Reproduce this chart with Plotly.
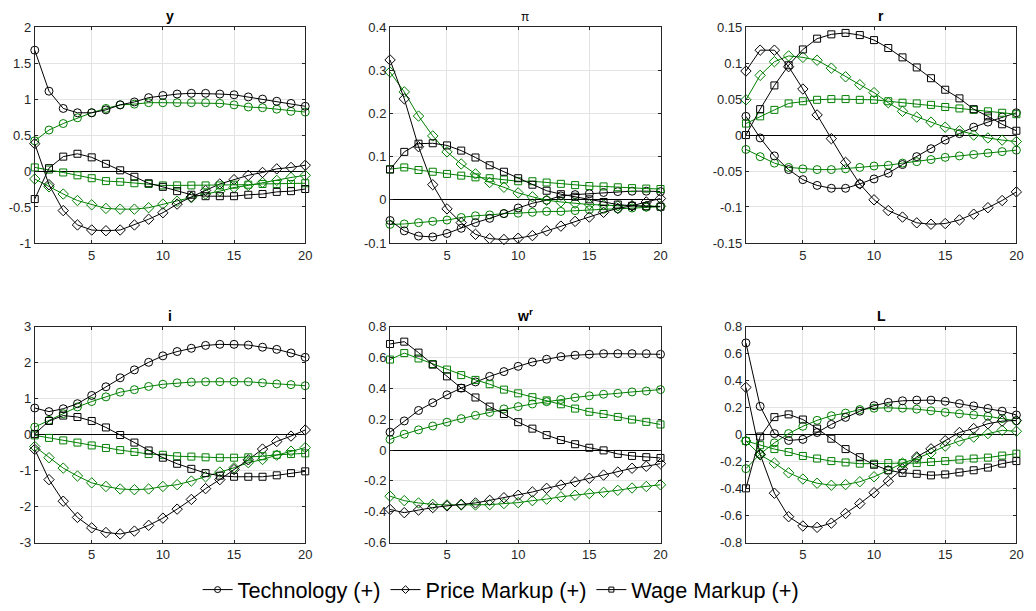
import plotly.graph_objects as go

periods = list(range(1, 21))

# ---------------- Output (y) ----------------
y_tech_a = [1.68, 1.11, 0.87, 0.81, 0.81, 0.85, 0.92, 0.96, 1.02, 1.05, 1.07, 1.08, 1.08, 1.07, 1.06, 1.03, 1.00, 0.97, 0.94, 0.90]
y_tech_b = [0.42, 0.57, 0.66, 0.74, 0.81, 0.87, 0.92, 0.93, 0.95, 0.95, 0.95, 0.95, 0.95, 0.94, 0.92, 0.89, 0.88, 0.86, 0.83, 0.82]
y_price_a = [0.38, -0.19, -0.55, -0.75, -0.82, -0.83, -0.82, -0.75, -0.67, -0.58, -0.46, -0.36, -0.27, -0.18, -0.12, -0.06, -0.02, 0.03, 0.05, 0.08]
y_price_b = [-0.11, -0.22, -0.32, -0.41, -0.47, -0.52, -0.53, -0.53, -0.51, -0.46, -0.42, -0.37, -0.32, -0.28, -0.23, -0.20, -0.16, -0.13, -0.09, -0.06]
y_wage_a = [-0.39, 0.04, 0.20, 0.24, 0.19, 0.10, 0.01, -0.08, -0.17, -0.22, -0.28, -0.33, -0.35, -0.35, -0.35, -0.33, -0.32, -0.29, -0.28, -0.25]
y_wage_b = [0.05, 0.02, -0.02, -0.06, -0.10, -0.14, -0.15, -0.17, -0.18, -0.20, -0.20, -0.20, -0.20, -0.20, -0.19, -0.19, -0.18, -0.18, -0.18, -0.17]

# ---------------- Inflation (pi) ----------------
pi_tech_a = [-0.048, -0.072, -0.084, -0.086, -0.078, -0.066, -0.053, -0.043, -0.032, -0.019, -0.008, -0.001, 0.009, 0.012, 0.014, 0.017, 0.019, 0.020, 0.020, 0.019]
pi_tech_b = [-0.057, -0.056, -0.053, -0.050, -0.047, -0.041, -0.037, -0.035, -0.032, -0.031, -0.029, -0.027, -0.027, -0.025, -0.023, -0.022, -0.021, -0.019, -0.017, -0.016]
pi_price_a = [0.324, 0.234, 0.123, 0.035, -0.021, -0.053, -0.080, -0.090, -0.092, -0.089, -0.083, -0.072, -0.061, -0.050, -0.040, -0.029, -0.020, -0.014, -0.005, 0.003]
pi_price_b = [0.296, 0.250, 0.194, 0.148, 0.111, 0.083, 0.060, 0.040, 0.029, 0.016, 0.007, -0.001, -0.005, -0.008, -0.011, -0.012, -0.014, -0.014, -0.015, -0.015]
pi_wage_a = [0.070, 0.111, 0.130, 0.131, 0.126, 0.114, 0.098, 0.080, 0.065, 0.050, 0.035, 0.021, 0.013, 0.007, 0.001, -0.005, -0.011, -0.014, -0.015, -0.016]
pi_wage_b = [0.071, 0.075, 0.069, 0.065, 0.060, 0.056, 0.052, 0.050, 0.047, 0.043, 0.043, 0.040, 0.037, 0.034, 0.032, 0.031, 0.029, 0.027, 0.026, 0.025]

# ---------------- Real rate (r) ----------------
r_tech_a = [0.026, -0.004, -0.029, -0.048, -0.062, -0.070, -0.074, -0.074, -0.068, -0.061, -0.053, -0.041, -0.030, -0.019, -0.007, 0.002, 0.011, 0.018, 0.025, 0.031]
r_tech_b = [-0.020, -0.030, -0.039, -0.045, -0.047, -0.048, -0.048, -0.047, -0.045, -0.043, -0.042, -0.039, -0.037, -0.034, -0.031, -0.029, -0.027, -0.025, -0.023, -0.021]
r_price_a = [0.089, 0.118, 0.118, 0.095, 0.064, 0.028, -0.005, -0.038, -0.068, -0.090, -0.105, -0.114, -0.122, -0.124, -0.123, -0.118, -0.110, -0.101, -0.091, -0.079]
r_price_b = [0.049, 0.083, 0.102, 0.110, 0.108, 0.104, 0.093, 0.081, 0.070, 0.059, 0.045, 0.033, 0.025, 0.018, 0.011, 0.006, 0.000, -0.004, -0.007, -0.009]
r_wage_a = [0.000, 0.036, 0.069, 0.097, 0.119, 0.134, 0.140, 0.142, 0.139, 0.132, 0.121, 0.108, 0.094, 0.079, 0.063, 0.051, 0.036, 0.026, 0.015, 0.006]
r_wage_b = [0.016, 0.026, 0.035, 0.044, 0.047, 0.049, 0.050, 0.050, 0.049, 0.049, 0.047, 0.045, 0.044, 0.042, 0.039, 0.037, 0.035, 0.033, 0.031, 0.029]

# ---------------- Nominal rate (i) ----------------
i_tech_a = [0.74, 0.64, 0.72, 0.86, 1.09, 1.33, 1.58, 1.80, 2.01, 2.19, 2.31, 2.40, 2.48, 2.51, 2.51, 2.49, 2.43, 2.37, 2.27, 2.15]
i_tech_b = [0.21, 0.40, 0.58, 0.77, 0.92, 1.05, 1.18, 1.25, 1.34, 1.40, 1.44, 1.46, 1.47, 1.47, 1.47, 1.47, 1.44, 1.41, 1.39, 1.36]
i_price_a = [-0.41, -1.25, -1.85, -2.30, -2.59, -2.72, -2.76, -2.68, -2.52, -2.32, -2.07, -1.80, -1.50, -1.25, -0.97, -0.70, -0.40, -0.19, -0.04, 0.13]
i_price_b = [-0.33, -0.64, -0.93, -1.15, -1.34, -1.44, -1.51, -1.53, -1.51, -1.44, -1.39, -1.29, -1.17, -1.04, -0.92, -0.78, -0.69, -0.57, -0.46, -0.36]
i_wage_a = [0.02, 0.38, 0.53, 0.49, 0.38, 0.20, -0.01, -0.22, -0.44, -0.64, -0.81, -0.95, -1.07, -1.14, -1.17, -1.17, -1.17, -1.13, -1.07, -1.02]
i_wage_b = [-0.02, -0.09, -0.16, -0.22, -0.30, -0.37, -0.43, -0.48, -0.54, -0.56, -0.60, -0.61, -0.63, -0.64, -0.64, -0.63, -0.60, -0.56, -0.54, -0.52]

# ---------------- Real wage (w^r) ----------------
w_tech_a = [0.116, 0.189, 0.257, 0.307, 0.358, 0.402, 0.442, 0.478, 0.509, 0.543, 0.571, 0.589, 0.606, 0.615, 0.621, 0.625, 0.625, 0.625, 0.625, 0.621]
w_tech_b = [0.069, 0.103, 0.131, 0.156, 0.181, 0.204, 0.225, 0.244, 0.267, 0.282, 0.299, 0.314, 0.328, 0.341, 0.352, 0.362, 0.368, 0.377, 0.383, 0.392]
w_price_a = [-0.385, -0.406, -0.389, -0.373, -0.362, -0.352, -0.343, -0.326, -0.309, -0.293, -0.272, -0.248, -0.227, -0.206, -0.183, -0.162, -0.143, -0.118, -0.105, -0.088]
w_price_b = [-0.299, -0.328, -0.343, -0.352, -0.356, -0.356, -0.356, -0.354, -0.347, -0.341, -0.328, -0.318, -0.303, -0.293, -0.282, -0.274, -0.261, -0.246, -0.236, -0.225]
w_wage_a = [0.688, 0.703, 0.632, 0.554, 0.478, 0.402, 0.341, 0.282, 0.234, 0.181, 0.139, 0.097, 0.065, 0.038, 0.015, -0.002, -0.025, -0.038, -0.046, -0.051]
w_wage_b = [0.587, 0.629, 0.594, 0.558, 0.522, 0.486, 0.455, 0.427, 0.392, 0.368, 0.343, 0.322, 0.297, 0.269, 0.248, 0.234, 0.215, 0.198, 0.183, 0.166]

# ---------------- Labour (L) ----------------
l_tech_a = [0.680, 0.210, 0.008, -0.043, -0.035, 0.016, 0.076, 0.128, 0.174, 0.215, 0.239, 0.251, 0.256, 0.256, 0.247, 0.230, 0.213, 0.194, 0.174, 0.146]
l_tech_b = [-0.252, -0.143, -0.061, 0.008, 0.062, 0.106, 0.140, 0.160, 0.186, 0.196, 0.199, 0.196, 0.189, 0.177, 0.165, 0.155, 0.146, 0.136, 0.119, 0.102]
l_price_a = [0.350, -0.146, -0.434, -0.608, -0.677, -0.687, -0.656, -0.584, -0.511, -0.430, -0.345, -0.254, -0.165, -0.105, -0.045, 0.016, 0.045, 0.081, 0.100, 0.105]
l_price_b = [-0.047, -0.150, -0.211, -0.283, -0.329, -0.360, -0.375, -0.370, -0.349, -0.312, -0.264, -0.211, -0.175, -0.134, -0.085, -0.047, -0.018, 0.008, 0.032, 0.025]
l_wage_a = [-0.398, -0.014, 0.130, 0.150, 0.112, 0.045, -0.030, -0.107, -0.167, -0.223, -0.264, -0.283, -0.290, -0.302, -0.295, -0.280, -0.264, -0.244, -0.215, -0.196]
l_wage_b = [-0.047, -0.078, -0.107, -0.129, -0.158, -0.177, -0.196, -0.206, -0.215, -0.215, -0.211, -0.211, -0.211, -0.203, -0.196, -0.185, -0.177, -0.170, -0.155, -0.141]

# ---------------- Axis ticks ----------------
x_ticks = [5, 10, 15, 20]
y_ticks = [-1, -0.5, 0, 0.5, 1, 1.5, 2]
y_labels = ["-1", "-0.5", "0", "0.5", "1", "1.5", "2"]
pi_ticks = [-0.1, 0, 0.1, 0.2, 0.3, 0.4]
pi_labels = ["-0.1", "0", "0.1", "0.2", "0.3", "0.4"]
r_ticks = [-0.15, -0.1, -0.05, 0, 0.05, 0.1, 0.15]
r_labels = ["-0.15", "-0.1", "-0.05", "0", "0.05", "0.1", "0.15"]
i_ticks = [-3, -2, -1, 0, 1, 2, 3]
i_labels = ["-3", "-2", "-1", "0", "1", "2", "3"]
w_ticks = [-0.6, -0.4, -0.2, 0, 0.2, 0.4, 0.6, 0.8]
w_labels = ["-0.6", "-0.4", "-0.2", "0", "0.2", "0.4", "0.6", "0.8"]
l_ticks = [-0.8, -0.6, -0.4, -0.2, 0, 0.2, 0.4, 0.6, 0.8]
l_labels = ["-0.8", "-0.6", "-0.4", "-0.2", "0", "0.2", "0.4", "0.6", "0.8"]

shock_names = ["Technology (+)", "Price Markup (+)", "Wage Markup (+)"]

# ---------------- Styling ----------------
W, H = 1036, 611
BLACK = "#000000"
GREEN = "#008000"
AXC = "#262626"
GRIDC = "#e3e3e3"
FONT = "Liberation Sans, Arial, Helvetica, sans-serif"
symbols = ["circle-open", "diamond-open", "square-open"]
sizes = [8, 8, 7]

panels = [
    dict(title="<b>y</b>", tsize=14, data=[(y_tech_a, y_tech_b), (y_price_a, y_price_b), (y_wage_a, y_wage_b)],
         ticks=y_ticks, labels=y_labels, rng=[-1, 2], px=(35, 307.3), py=(20.7, 242.3)),
    dict(title="\u03c0", tsize=12, data=[(pi_tech_a, pi_tech_b), (pi_price_a, pi_price_b), (pi_wage_a, pi_wage_b)],
         ticks=pi_ticks, labels=pi_labels, rng=[-0.1, 0.4], px=(392.7, 665), py=(20.7, 242.3)),
    dict(title="<b>r</b>", tsize=14, data=[(r_tech_a, r_tech_b), (r_price_a, r_price_b), (r_wage_a, r_wage_b)],
         ticks=r_ticks, labels=r_labels, rng=[-0.15, 0.15], px=(751, 1023.3), py=(20.7, 242.3)),
    dict(title="<b>i</b>", tsize=14, data=[(i_tech_a, i_tech_b), (i_price_a, i_price_b), (i_wage_a, i_wage_b)],
         ticks=i_ticks, labels=i_labels, rng=[-3, 3], px=(35, 307.3), py=(328.3, 550)),
    dict(title="<b>w<sup>r</sup></b>", tsize=14, data=[(w_tech_a, w_tech_b), (w_price_a, w_price_b), (w_wage_a, w_wage_b)],
         ticks=w_ticks, labels=w_labels, rng=[-0.6, 0.8], px=(392.7, 665), py=(328.3, 550)),
    dict(title="<b>L</b>", tsize=14, data=[(l_tech_a, l_tech_b), (l_price_a, l_price_b), (l_wage_a, l_wage_b)],
         ticks=l_ticks, labels=l_labels, rng=[-0.8, 0.8], px=(751, 1023.3), py=(328.3, 550)),
]

fig = go.Figure()
layout = dict(
    width=W, height=H,
    margin=dict(l=0, r=0, t=0, b=0),
    paper_bgcolor="white", plot_bgcolor="white",
    font=dict(family=FONT, color=AXC, size=13),
    showlegend=True,
    annotations=[],
)

for k, p in enumerate(panels):
    n = k + 1
    xa = "x" if n == 1 else f"x{n}"
    ya = "y" if n == 1 else f"y{n}"
    xkey = "xaxis" if n == 1 else f"xaxis{n}"
    ykey = "yaxis" if n == 1 else f"yaxis{n}"
    xd = [p["px"][0] / W, p["px"][1] / W]
    yd = [1 - p["py"][1] / H, 1 - p["py"][0] / H]
    common = dict(showline=True, linecolor=AXC, linewidth=1, mirror="ticks",
                  ticks="inside", ticklen=3, tickcolor=AXC, tickwidth=1,
                  showgrid=True, gridcolor=GRIDC, gridwidth=1,
                  tickfont=dict(family=FONT, size=13, color=AXC))
    layout[xkey] = dict(common, domain=xd, range=[1, 20], tickvals=x_ticks,
                        ticktext=[str(v) for v in x_ticks], anchor=ya, zeroline=False)
    layout[ykey] = dict(common, domain=yd, range=p["rng"], tickvals=p["ticks"],
                        ticktext=p["labels"], anchor=xa, zeroline=True,
                        zerolinecolor=BLACK, zerolinewidth=1)
    layout["annotations"].append(dict(
        text=p["title"], x=(xd[0] + xd[1]) / 2, y=yd[1], xref="paper", yref="paper",
        xanchor="center", yanchor="bottom", yshift=1, showarrow=False,
        font=dict(family=FONT, size=p["tsize"], color=BLACK)))
    for s, (a_vals, b_vals) in enumerate(p["data"]):
        for vals, col in ((b_vals, GREEN), (a_vals, BLACK)):
            fig.add_trace(go.Scatter(
                x=periods, y=vals, xaxis=xa, yaxis=ya, mode="lines+markers",
                line=dict(color=col, width=1),
                marker=dict(symbol=symbols[s], size=sizes[s], color=col, line=dict(width=1, color=col)),
                cliponaxis=False, showlegend=False, hoverinfo="skip"))

# legend entries
leg_sizes = [6, 6, 5]
for s in range(3):
    fig.add_trace(go.Scatter(
        x=[None], y=[None], xaxis="x", yaxis="y", mode="lines+markers", name=shock_names[s],
        line=dict(color=BLACK, width=1),
        marker=dict(symbol=symbols[s], size=leg_sizes[s], color=BLACK, line=dict(width=1, color=BLACK)),
        showlegend=True))

layout["legend"] = dict(orientation="h", x=0.487, xanchor="center", y=1 - 599 / H, yanchor="middle",
                        font=dict(family=FONT, size=21.7, color=BLACK), bgcolor="rgba(0,0,0,0)",
                        itemwidth=30, tracegroupgap=0)
fig.update_layout(**layout)
fig.write_html("out.html")
